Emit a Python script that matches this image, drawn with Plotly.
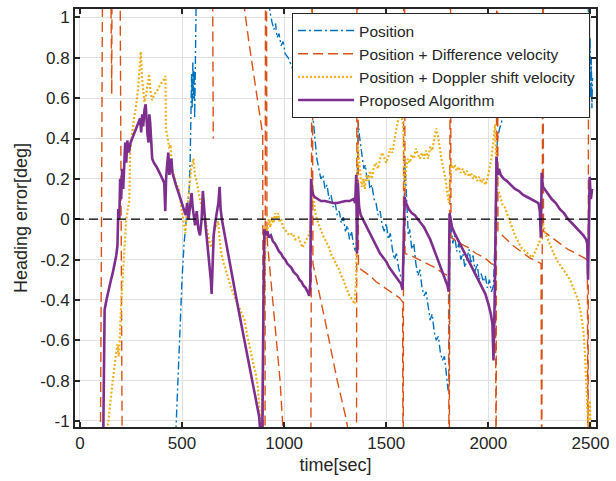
import plotly.graph_objects as go

# ---------------- data ----------------
x_ticks = [0, 500, 1000, 1500, 2000, 2500]
y_ticks = [-1, -0.8, -0.6, -0.4, -0.2, 0, 0.2, 0.4, 0.6, 0.8, 1]
y_tick_labels = ["-1", "-0.8", "-0.6", "-0.4", "-0.2", "0", "0.2", "0.4", "0.6", "0.8", "1"]

series_names = ["Position", "Position + Difference velocity",
                "Position + Doppler shift velocity\u00a0\u00a0", "Proposed Algorithm"]

pos_t = [460, 470, 480, 490, 500, 510, 520, 528, 535, 540, 544, 547, 550, 553, 556, 559, 562, 565, 568, 572,
         920, 930, 940, 950, 958, 965, 975, 985, 995, 1005, 1020, 1040, 1070, 1100, 1130, 1140, 1150, 1160,
         1170, 1180, 1190, 1200, 1210, 1220, 1230, 1240, 1250, 1260, 1270, 1280, 1290, 1300, 1310, 1320,
         1330, 1340, 1350, 1356, 1360, 1363, 1368, 1375, 1382, 1390, 1398, 1405, 1412, 1420, 1430, 1440,
         1450, 1460, 1470, 1480, 1490, 1500, 1510, 1520, 1530, 1540, 1550, 1560, 1570, 1580, 1586, 1590,
         1595, 1600, 1608, 1615, 1625, 1635, 1645, 1655, 1665, 1675, 1685, 1695, 1705, 1715, 1725, 1735,
         1745, 1755, 1765, 1775, 1785, 1795, 1803, 1808, 1812, 1818, 1826, 1835, 1845, 1855, 1865, 1875,
         1885, 1895, 1905, 1915, 1925, 1935, 1945, 1955, 1965, 1975, 1985, 1995, 2005, 2015, 2025, 2033,
         2038, 2045, 2055, 2070, 2085, 2100, 2115, 2130, 2160, 2190, 2220, 2250, 2270, 2290, 2485, 2492,
         2495, 2498, 2501, 2504, 2507, 2510]
pos_v = [-1.3, -1.03, -0.8, -0.55, -0.3, -0.12, 0.0, 0.08, 0.15, 0.3, 0.5, 0.72, 0.55, 0.78, 0.6, 0.74, 0.5, 0.65, 0.9, 1.3,
         1.3, 1.03, 0.98, 0.94, 0.97, 0.9, 0.92, 0.86, 0.88, 0.82, 0.8, 0.75, 0.7, 0.64, 0.58, 0.52, 0.4, 0.3,
         0.25, 0.2, 0.22, 0.15, 0.17, 0.1, 0.12, 0.06, 0.08, 0.02, 0.04, -0.02, 0.01, -0.06, -0.03, -0.1,
         -0.06, -0.13, -0.16, -0.05, 0.3, 0.48, 0.42, 0.36, 0.3, 0.25, 0.27, 0.2, 0.22, 0.15, 0.17, 0.1,
         0.08, 0.02, 0.04, -0.03, -0.06, -0.02, -0.1, -0.07, -0.15, -0.2, -0.17, -0.24, -0.28, -0.3, -0.2, 0.28,
         0.2, 0.05, -0.08, -0.05, -0.15, -0.12, -0.22, -0.28, -0.25, -0.34, -0.38, -0.36, -0.44, -0.5, -0.47, -0.56,
         -0.6, -0.58, -0.66, -0.7, -0.68, -0.76, -0.85, -0.8, -0.02, -0.05, -0.12, -0.08, -0.16, -0.12, -0.2, -0.17,
         -0.24, -0.2, -0.15, -0.22, -0.18, -0.26, -0.22, -0.3, -0.27, -0.31, -0.28, -0.34, -0.3, -0.36, -0.33, -0.1,
         0.3, 0.4, 0.45, 0.5, 0.53, 0.57, 0.6, 0.63, 0.72, 0.8, 0.88, 0.96, 1.04, 1.3, 1.3, 1.0,
         0.75, 0.9, 0.6, 0.8, 0.55, 0.7]

diff_t = [98, 103, 106, 109, 113, 148, 156, 158, 195, 199, 202, 205, 209, None,
          648, 653, None,
          795, 806, 830, 855, 875, 895, 898, 906, 909, 913, 916, 935, 960, 980, 992, 1010,
          1130, 1134, 1137, 1141, 1170, 1200, 1230, 1260, 1290, 1306, 1320,
          1354, 1357, 1360, 1364, 1390, 1420, 1450, 1480, 1510, 1540, 1565, 1580,
          1583, 1586, 1589, 1592, 1620, 1660, 1700, 1740, 1780, 1805,
          1808, 1811, 1814, 1817, 1860, 1900, 1940, 1980, 2015, 2035,
          2038, 2041, 2044, 2047, 2080, 2120, 2160, 2200, 2240, 2258,
          2261, 2264, 2267, 2270, 2310, 2350, 2390, 2430, 2470, 2485, 2488, 2491]
diff_v = [-1.6, -0.8, 0.0, 0.8, 1.6, 1.6, 0.62, 1.6, 1.6, 0.8, 0.0, -0.8, -1.6, None,
          1.6, 0.4, None,
          1.6, 1.04, 0.86, 0.7, 0.56, 0.42, -1.6, -1.6, 1.6, 1.6, -0.09, -0.3, -0.55, -0.8, -1.0, -1.25,
          -1.6, 1.6, 1.6, -0.22, -0.35, -0.5, -0.65, -0.8, -0.93, -1.0, -1.1,
          -1.6, 1.6, 1.6, -0.24, -0.26, -0.28, -0.31, -0.33, -0.35, -0.37, -0.39, -0.41,
          -1.6, 1.6, 1.6, -0.17, -0.18, -0.2, -0.22, -0.24, -0.27, -0.28,
          -1.6, 1.6, 1.6, -0.09, -0.12, -0.14, -0.17, -0.19, -0.22, -0.23,
          -1.6, 1.6, 1.6, -0.06, -0.09, -0.13, -0.16, -0.19, -0.21, -0.22,
          -1.6, 1.6, 1.6, -0.06, -0.09, -0.12, -0.15, -0.17, -0.19, -0.2, -1.6, 1.6]

dop_t = [130, 137, 150, 160, 170, 178, 184, 190, 195, 202, 210, 218, 226, 234, 242, 246, 255, 265, 274, 285,
         292, 298, 304, 310, 316, 325, 333, 339, 345, 353, 365, 380, 395, 410, 419, 421, 430, 438, 444, 450,
         460, 470, 484, 495, 508, 516, 525, 535, 545, 556, 563, 571, 580, 589, 600, 613, 622, 629, 636, 643,
         650, 660, 670, 677, 684, 692, 705, 720, 740, 760, 780, 806, 820, 837, 850, 860, 871, 878, 885, 890,
         900, 905, 910, 918, 925, 932, 940, 948, 955, 962, 970, 978, 985, 995, 1010, 1025, 1040, 1055, 1070,
         1090, 1100, 1110, 1120, 1128, 1133, 1137, 1142, 1150, 1160, 1170, 1180, 1190, 1200, 1210, 1220, 1232,
         1245, 1258, 1270, 1280, 1290, 1300, 1310, 1320, 1335, 1345, 1352, 1357, 1361, 1366, 1372, 1380, 1388,
         1395, 1403, 1412, 1420, 1430, 1440, 1450, 1460, 1470, 1480, 1490, 1500, 1510, 1520, 1530, 1540, 1550,
         1560, 1570, 1578, 1584, 1588, 1592, 1598, 1605, 1615, 1625, 1635, 1645, 1655, 1665, 1675, 1685, 1695,
         1705, 1715, 1725, 1735, 1745, 1752, 1760, 1770, 1780, 1790, 1800, 1807, 1812, 1818, 1826, 1835, 1845,
         1855, 1865, 1875, 1885, 1895, 1905, 1915, 1925, 1935, 1945, 1955, 1965, 1975, 1985, 1995, 2005, 2015,
         2025, 2033, 2038, 2043, 2050, 2060, 2070, 2080, 2090, 2100, 2110, 2120, 2130, 2140, 2150, 2160, 2170,
         2180, 2190, 2200, 2215, 2230, 2245, 2255, 2262, 2268, 2275, 2290, 2305, 2320, 2340, 2360, 2380, 2400,
         2420, 2440, 2455, 2465, 2472, 2478, 2484, 2488, 2492, 2497, 2502]
dop_v = [-1.3, -1.03, -0.9, -0.8, -0.72, -0.66, -0.62, -0.68, -0.6, -0.42, -0.3, -0.17, -0.01, 0.05, 0.09, 0.34, 0.42, 0.5, 0.55, 0.65,
         0.75, 0.83, 0.7, 0.62, 0.58, 0.62, 0.68, 0.72, 0.64, 0.59, 0.62, 0.64, 0.67, 0.69, 0.71, 0.45, 0.4, 0.35, 0.37, 0.25,
         0.22, 0.18, 0.15, 0.08, 0.0, -0.07, 0.05, 0.15, 0.25, 0.3, 0.22, 0.19, 0.14, 0.09, 0.05, 0.01, -0.05, -0.09, -0.12, -0.14,
         -0.1, -0.05, -0.03, -0.01, -0.1, -0.17, -0.22, -0.27, -0.34, -0.39, -0.44, -0.5, -0.58, -0.67, -0.72, -0.76, -0.83, -0.92, -1.0, -1.1,
         -0.6, -0.2, -0.03, -0.06, 0.0, -0.04, 0.01, -0.02, 0.03, 0.0, 0.03, -0.01, 0.0, -0.04, -0.06, -0.08, -0.07, -0.1, -0.09,
         -0.14, -0.12, -0.1, -0.08, -0.05, 0.0, 0.19, 0.12, 0.05, 0.0, -0.03, -0.06, -0.08, -0.1, -0.12, -0.14, -0.18,
         -0.2, -0.23, -0.25, -0.28, -0.3, -0.33, -0.36, -0.38, -0.4, -0.42, -0.3, 0.1, 0.37, 0.3, 0.22, 0.16, 0.2,
         0.15, 0.22, 0.19, 0.24, 0.2, 0.26, 0.28, 0.25, 0.3, 0.33, 0.3, 0.28, 0.31, 0.35, 0.33, 0.4, 0.45,
         0.5, 0.55, 0.5, 0.45, 0.2, 0.15, 0.25, 0.3, 0.28, 0.32, 0.3, 0.35, 0.32, 0.3, 0.33, 0.3, 0.34,
         0.3, 0.36, 0.34, 0.4, 0.45, 0.42, 0.36, 0.3, 0.25, 0.2, 0.12, 0.08, 0.2, 0.28, 0.25, 0.27, 0.24,
         0.26, 0.23, 0.25, 0.22, 0.24, 0.21, 0.23, 0.2, 0.22, 0.19, 0.21, 0.18, 0.2, 0.17, 0.2, 0.25, 0.3,
         0.39, 0.47, 0.3, 0.15, 0.14, 0.1, 0.07, 0.06, 0.03, 0.0, -0.03, -0.06, -0.08, -0.1, -0.12, -0.14, -0.15,
         -0.16, -0.17, -0.18, -0.19, -0.16, -0.12, -0.1, -0.04, -0.02, -0.06, -0.1, -0.14, -0.17, -0.21, -0.24, -0.27, -0.3,
         -0.35, -0.4, -0.48, -0.55, -0.65, -0.8, -0.98, -1.05, -1.1, -0.9, -1.1]

prop_t = [112, 116, 118, 121, 130, 140, 150, 160, 170, 178, 184, 188, 193, 197, 202, 207, 212, 217, 222, 227,
          232, 240, 248, 256, 264, 272, 280, 288, 295, 300, 305, 310, 316, 322, 326, 331, 336, 340, 344, 349,
          354, 362, 375, 390, 405, 413, 418, 422, 428, 433, 438, 443, 448, 453, 460, 470, 480, 490, 500, 510,
          518, 525, 532, 540, 547, 552, 558, 564, 572, 580, 588, 596, 602, 607, 614, 620, 627, 635, 641, 645,
          649, 655, 662, 670, 678, 684, 689, 695, 702, 715, 730, 745, 760, 775, 790, 805, 820, 835, 850, 865,
          878, 886, 892, 898, 903, 910, 918, 925, 935, 945, 955, 965, 975, 985, 995, 1005, 1015, 1025, 1035,
          1045, 1055, 1065, 1075, 1085, 1095, 1105, 1115, 1123, 1128, 1132, 1136, 1142, 1150, 1165, 1180, 1200,
          1220, 1240, 1260, 1280, 1300, 1320, 1340, 1348, 1353, 1357, 1361, 1367, 1375, 1385, 1395, 1410, 1425,
          1440, 1455, 1470, 1485, 1500, 1515, 1530, 1545, 1560, 1572, 1580, 1585, 1590, 1597, 1610, 1625, 1640,
          1655, 1670, 1685, 1700, 1715, 1730, 1745, 1760, 1775, 1790, 1800, 1806, 1810, 1815, 1822, 1835, 1850,
          1865, 1880, 1895, 1910, 1925, 1940, 1955, 1970, 1985, 2000, 2012, 2020, 2025, 2030, 2035, 2040, 2045,
          2052, 2060, 2075, 2090, 2110, 2130, 2150, 2170, 2190, 2210, 2230, 2245, 2252, 2257, 2261, 2267, 2275,
          2290, 2310, 2330, 2350, 2370, 2390, 2410, 2430, 2450, 2465, 2478, 2484, 2488, 2492, 2496, 2502, 2508]
prop_v = [-1.3, -1.03, -0.75, -0.45, -0.4, -0.35, -0.31, -0.27, -0.22, -0.18, -0.13, 0.05, 0.0, 0.2, 0.1, 0.25, 0.15, 0.3, 0.38, 0.28,
          0.39, 0.33, 0.38, 0.4, 0.42, 0.44, 0.46, 0.48, 0.5, 0.43, 0.52, 0.46, 0.54, 0.57, 0.47, 0.42, 0.38, 0.52, 0.48, 0.34,
          0.3, 0.28, 0.26, 0.23, 0.2, 0.18, 0.04, 0.2, 0.28, 0.33, 0.22, 0.27, 0.3, 0.23, 0.2, 0.17, 0.14, 0.11, 0.07, 0.04,
          0.02, 0.08, 0.0, 0.07, 0.13, 0.06, 0.0, -0.03, 0.04, -0.05, -0.08, 0.0, 0.14, 0.05, -0.02, -0.08, -0.15, -0.22, -0.3, -0.37,
          -0.2, -0.08, -0.02, 0.03, 0.08, 0.16, 0.05, 0.0, -0.04, -0.12, -0.2, -0.28, -0.36, -0.44, -0.52, -0.6, -0.68, -0.76, -0.83, -0.91,
          -0.98, -1.1, -1.2, -0.5, -0.05, -0.08, -0.06, -0.09, -0.08, -0.11, -0.12, -0.14, -0.16, -0.17, -0.19, -0.2, -0.22, -0.23, -0.24,
          -0.26, -0.27, -0.28, -0.3, -0.31, -0.33, -0.34, -0.36, -0.38, -0.32, 0.2, 0.15, 0.12, 0.11, 0.1, 0.09, 0.09,
          0.085, 0.08, 0.08, 0.085, 0.09, 0.09, 0.1, 0.08, 0.22, -0.17, 0.18, 0.06, 0.02, 0.0, -0.02, -0.05, -0.08,
          -0.11, -0.14, -0.17, -0.19, -0.21, -0.24, -0.26, -0.28, -0.3, -0.32, -0.35, -0.1, 0.11, 0.08, 0.05, 0.03, 0.02,
          0.0, -0.02, -0.04, -0.07, -0.1, -0.14, -0.18, -0.22, -0.26, -0.3, -0.33, -0.36, 0.03, 0.0, -0.04, -0.07, -0.1,
          -0.13, -0.16, -0.19, -0.22, -0.25, -0.28, -0.31, -0.34, -0.37, -0.42, -0.47, -0.52, -0.7, -0.45, 0.1, 0.31, 0.22,
          0.25, 0.22, 0.2, 0.19, 0.17, 0.15, 0.14, 0.12, 0.11, 0.1, 0.09, 0.08, 0.04, -0.09, 0.23, 0.16, 0.15,
          0.13, 0.1, 0.08, 0.05, 0.03, 0.0, -0.02, -0.04, -0.06, -0.08, -0.1, -0.12, -0.3, 0.0, 0.21, 0.1, 0.15]

# ---------------- figure ----------------
FONT = "Liberation Sans, Arial, Helvetica, sans-serif"
INK = "#262626"

fig = go.Figure()
fig.add_trace(go.Scatter(x=pos_t, y=pos_v, mode="lines", name=series_names[0],
                         line=dict(color="#0072BD", width=1.4, dash="8px,3px,2px,3px")))
fig.add_trace(go.Scatter(x=diff_t, y=diff_v, mode="lines", name=series_names[1],
                         line=dict(color="#D95319", width=1.4, dash="10px,5px"), connectgaps=False))
fig.add_trace(go.Scatter(x=dop_t, y=dop_v, mode="lines", name=series_names[2],
                         line=dict(color="#EDB120", width=2.2, dash="2px,2px")))
fig.add_trace(go.Scatter(x=prop_t, y=prop_v, mode="lines", name=series_names[3],
                         line=dict(color="#7E2F8E", width=2.6)))

fig.add_hline(y=0, line=dict(color="black", width=1.3, dash="9px,5px"))

axis_common = dict(showline=True, linecolor=INK, linewidth=2, mirror="ticks",
                   ticks="inside", ticklen=5, tickwidth=2, tickcolor=INK,
                   showgrid=True, gridcolor="#E1E1E1", gridwidth=1, zeroline=False,
                   tickfont=dict(family=FONT, size=17, color=INK))

fig.update_xaxes(range=[-24, 2527], tickvals=x_ticks,
                 title=dict(text="time[sec]", font=dict(family=FONT, size=18, color=INK), standoff=6),
                 **axis_common)
fig.update_yaxes(range=[-1.03, 1.042], tickvals=y_ticks, ticktext=y_tick_labels,
                 title=dict(text="Heading error[deg]", font=dict(family=FONT, size=18, color=INK), standoff=8),
                 **axis_common)

fig.update_layout(
    width=616, height=481,
    margin=dict(l=75, r=14, t=7, b=54),
    plot_bgcolor="white", paper_bgcolor="white",
    font=dict(family=FONT, size=17, color=INK),
    legend=dict(x=0.9886, y=0.9905, xanchor="right", yanchor="top",
                bgcolor="white", bordercolor=INK, borderwidth=1,
                font=dict(family=FONT, size=15.5, color=INK),
                itemwidth=56, tracegroupgap=0),
    showlegend=True,
)

fig.write_html("out.html")
